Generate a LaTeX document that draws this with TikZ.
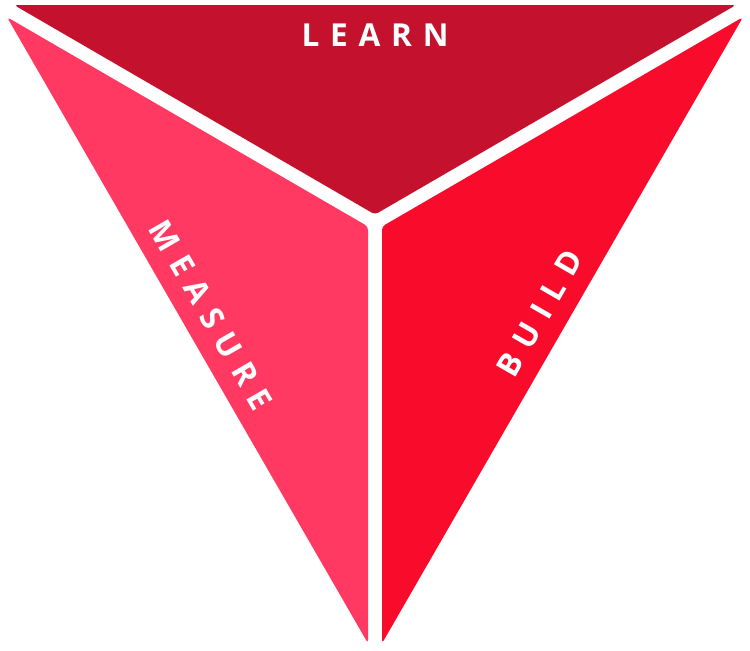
\documentclass[tikz,border=0pt]{standalone}
\usepackage{fontspec}
\newfontfamily\labelfont[LetterSpace=34]{Open Sans}
\usetikzlibrary{positioning}
\definecolor{learncol}{RGB}{195,17,46}
\definecolor{measurecol}{RGB}{255,57,97}
\definecolor{buildcol}{RGB}{249,11,44}

\begin{document}
\begin{tikzpicture}[x=0.02cm, y=-0.02cm]
			\useasboundingbox (0,0) rectangle (750,650);
			\tikzset{piece/.style={rounded corners=2pt},
				label/.style={text=white, font=\labelfont\bfseries\fontsize{18}{20}\selectfont, inner sep=0pt}}
			% top part
			\coordinate (lt) at (14,5);
			\coordinate (rt) at (736,5);
			\coordinate (lm) at (375,214.5);
			% left part
			\coordinate (ml) at (7,17.1);
			\coordinate (mc) at (368,226.5);
			\coordinate (mb) at (368,643.4);
			% right part
			\coordinate (br) at (743,17.1);
			\coordinate (bc) at (382,226.5);
			\coordinate (bb) at (382,643.4);
			\fill[piece, learncol] (lt) -- (rt) -- (lm) -- cycle;
			\fill[piece, measurecol] (ml) -- (mc) -- (mb) -- cycle;
			\fill[piece, buildcol] (br) -- (bb) -- (bc) -- cycle;
			\begin{scope}[every node/.style={label}]
				\node (learn) at (375,35) {LEARN};
				\node[rotate=-60] (measure) at (211,315) {MEASURE};
				\node[rotate=60] (build) at (540,313) {BUILD};
			\end{scope}
		\end{tikzpicture}
\end{document}
